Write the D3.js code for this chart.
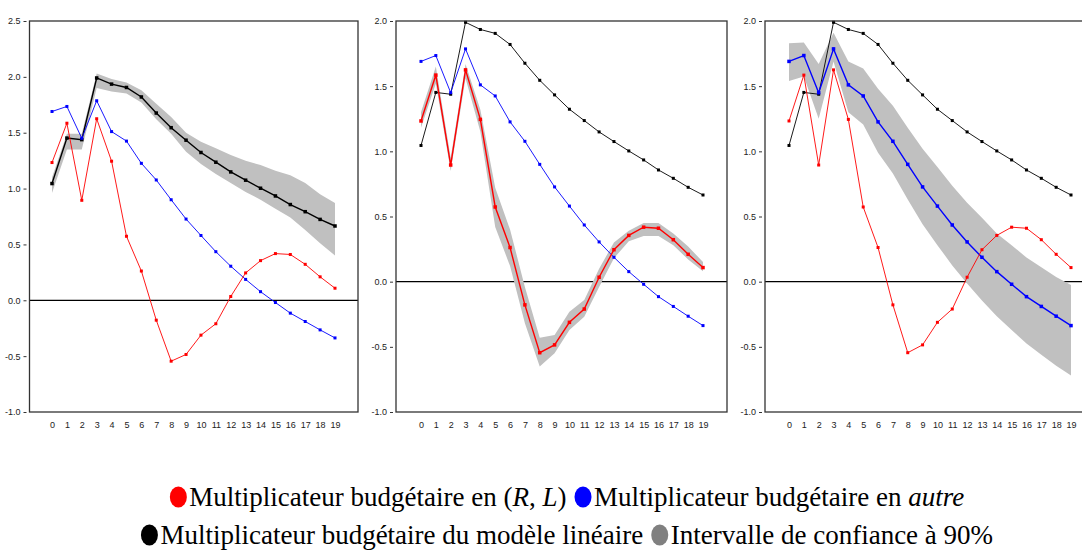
<!DOCTYPE html>
<html>
<head>
<meta charset="utf-8">
<script src="https://cdn.jsdelivr.net/npm/d3@7"></script>
<style>
  body { margin: 0; background: #fff; }
  svg { display: block; }
  .tick text { font-family: 'Liberation Sans Narrow', 'Arial Narrow', 'Liberation Sans', sans-serif; font-size: 9px; fill: #222; }
  .legend text { font-family: 'Liberation Serif', 'Times New Roman', serif; font-size: 27px; fill: #000; }
</style>
</head>
<body>
<svg id="chart" width="1082" height="550"></svg>
<script>
// horizons (x categories)
const horizons = [0, 1, 2, 3, 4, 5, 6, 7, 8, 9, 10, 11, 12, 13, 14, 15, 16, 17, 18, 19];

// multiplier series
const multRL = [1.233, 1.585, 0.895, 1.625, 1.245, 0.573, 0.262, -0.178, -0.545, -0.485,
                -0.312, -0.21, 0.034, 0.245, 0.355, 0.418, 0.41, 0.322, 0.21, 0.108];
const multAutre = [1.69, 1.735, 1.45, 1.786, 1.51, 1.425, 1.226, 1.077, 0.90, 0.727,
                   0.58, 0.435, 0.305, 0.187, 0.077, -0.02, -0.115, -0.19, -0.265, -0.337];
const multLineaire = [1.045, 1.452, 1.438, 1.99, 1.935, 1.905, 1.82, 1.676, 1.545, 1.433,
                      1.323, 1.236, 1.149, 1.075, 1.003, 0.934, 0.857, 0.793, 0.724, 0.665];

// 90% confidence bands
const bandLinLow  = [0.96, 1.35, 1.35, 1.90, 1.87, 1.85, 1.77, 1.62, 1.49, 1.33,
                     1.22, 1.13, 1.05, 0.97, 0.90, 0.82, 0.74, 0.63, 0.51, 0.40];
const bandLinHigh = [1.10, 1.49, 1.49, 2.03, 1.98, 1.95, 1.88, 1.76, 1.64, 1.50,
                     1.42, 1.36, 1.30, 1.25, 1.21, 1.16, 1.12, 1.05, 0.95, 0.87];
const bandRLLow  = [1.18, 1.52, 0.85, 1.56, 1.15, 0.42, 0.12, -0.32, -0.65, -0.55,
                    -0.37, -0.27, -0.04, 0.18, 0.31, 0.35, 0.35, 0.28, 0.17, 0.08];
const bandRLHigh = [1.30, 1.65, 0.95, 1.67, 1.32, 0.72, 0.40, -0.04, -0.43, -0.41,
                    -0.23, -0.14, 0.10, 0.30, 0.39, 0.45, 0.45, 0.37, 0.27, 0.15];
const bandAutreLow  = [1.54, 1.575, 1.25, 1.69, 1.30, 1.205, 0.99, 0.83, 0.63, 0.44,
                       0.28, 0.125, -0.015, -0.145, -0.265, -0.37, -0.475, -0.56, -0.645, -0.72];
const bandAutreHigh = [1.83, 1.835, 1.67, 1.91, 1.69, 1.635, 1.48, 1.35, 1.18, 1.02,
                       0.88, 0.735, 0.605, 0.49, 0.37, 0.28, 0.185, 0.11, 0.035, -0.025];

// tick labels
const yTicksWide = [-1, -0.5, 0, 0.5, 1, 1.5, 2, 2.5];
const yTicks = [-1, -0.5, 0, 0.5, 1, 1.5, 2];

const RED = '#ff0000', BLUE = '#0000ff', BLACK = '#000000', GREY = '#c0c0c0';

const svg = d3.select('#chart');
const plotTop = 21, plotBottom = 412;

const panels = [
  { left: 29.5, right: 358, x0: 52, x19: 335, ymax: 2.5, ticks: yTicksWide,
    band: [bandLinLow, bandLinHigh], focus: 'lin' },
  { left: 396, right: 727, x0: 421, x19: 703, ymax: 2, ticks: yTicks,
    band: [bandRLLow, bandRLHigh], focus: 'rl' },
  { left: 765, right: 1090, x0: 789, x19: 1071, ymax: 2, ticks: yTicks,
    band: [bandAutreLow, bandAutreHigh], focus: 'autre' }
];

panels.forEach(p => {
  const g = svg.append('g');
  const x = d3.scaleLinear().domain([0, 19]).range([p.x0, p.x19]);
  const y = d3.scaleLinear().domain([-1, p.ymax]).range([plotBottom, plotTop]);

  // zero line
  g.append('line')
    .attr('x1', p.left).attr('x2', p.right)
    .attr('y1', y(0)).attr('y2', y(0))
    .attr('stroke', '#000').attr('stroke-width', 1.2);

  // confidence band
  const area = d3.area()
    .x((d, i) => x(horizons[i]))
    .y0((d, i) => y(p.band[0][i]))
    .y1((d, i) => y(p.band[1][i]));
  g.append('path').datum(horizons)
    .attr('d', area)
    .attr('fill', GREY);

  const series = [
    { key: 'lin', values: multLineaire, color: BLACK },
    { key: 'autre', values: multAutre, color: BLUE },
    { key: 'rl', values: multRL, color: RED }
  ];

  series.forEach(s => {
    const isFocus = s.key === p.focus;
    const line = d3.line()
      .x((d, i) => x(horizons[i]))
      .y(d => y(d));
    g.append('path').datum(s.values)
      .attr('d', line)
      .attr('fill', 'none')
      .attr('stroke', s.color)
      .attr('stroke-width', isFocus ? 1.4 : 0.9);
    const m = isFocus ? 3.5 : 3;
    g.selectAll(null).data(s.values).enter().append('rect')
      .attr('x', (d, i) => x(horizons[i]) - m / 2)
      .attr('y', d => y(d) - m / 2)
      .attr('width', m).attr('height', m)
      .attr('fill', s.color);
  });

  // frame
  g.append('rect')
    .attr('x', p.left).attr('y', plotTop)
    .attr('width', p.right - p.left).attr('height', plotBottom - plotTop)
    .attr('fill', 'none').attr('stroke', '#333').attr('stroke-width', 1.3);

  // y axis
  g.append('g')
    .attr('transform', `translate(${p.left},0)`)
    .call(d3.axisLeft(y).tickValues(p.ticks).tickFormat(d => d.toFixed(1)).tickSize(0).tickPadding(9))
    .call(a => a.select('.domain').remove())
    .call(a => a.selectAll('.tick').append('line')
      .attr('x1', -6).attr('x2', -3).attr('stroke', '#333'));

  // x axis
  g.append('g')
    .attr('transform', `translate(0,${plotBottom})`)
    .call(d3.axisBottom(x).tickValues(horizons).tickFormat(d => d).tickSize(0).tickPadding(10))
    .call(a => a.select('.domain').remove());
});

// legend
const legendRows = [
  { y: 497, items: [
    { color: RED, parts: [['Multiplicateur budgétaire en ', false], ['(', false], ['R', true], [', ', false], ['L', true], [')', false]] },
    { color: BLUE, parts: [['Multiplicateur budgétaire en ', false], ['autre', true]] }
  ]},
  { y: 535, items: [
    { color: BLACK, parts: [['Multiplicateur budgétaire du modèle linéaire', false]] },
    { color: '#808080', parts: [['Intervalle de confiance à 90%', false]] }
  ]}
];

legendRows.forEach(row => {
  const lg = svg.append('g').attr('class', 'legend');
  let cur = 0;
  row.items.forEach((item, k) => {
    if (k > 0) cur += 8;
    lg.append('ellipse')
      .attr('cx', cur + 8.5).attr('cy', row.y)
      .attr('rx', 8.5).attr('ry', 10.5)
      .attr('fill', item.color);
    const t = lg.append('text')
      .attr('x', cur + 19.5).attr('y', row.y + 9);
    item.parts.forEach(pt => {
      t.append('tspan').text(pt[0]).attr('font-style', pt[1] ? 'italic' : null);
    });
    cur += 19.5 + t.node().getComputedTextLength();
  });
  lg.attr('transform', `translate(${567 - cur / 2},0)`);
});
</script>
</body>
</html>
